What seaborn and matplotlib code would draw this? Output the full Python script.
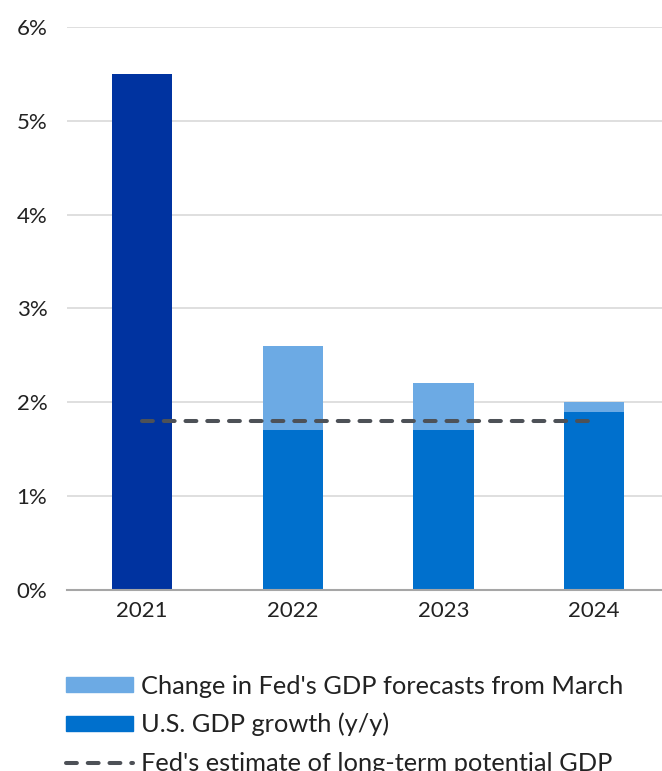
import numpy as np
import pandas as pd
import matplotlib
matplotlib.use("Agg")
import matplotlib.pyplot as plt
import seaborn as sns
from matplotlib.patches import Patch
from matplotlib.lines import Line2D

years = ["2021", "2022", "2023", "2024"]
gdp_growth = [5.5, 1.7, 1.7, 1.9]
forecast_total = [5.5, 2.6, 2.2, 2.0]
potential_gdp = [1.8, 1.8, 1.8, 1.8]
y_ticks = [0, 1, 2, 3, 4, 5, 6]
y_ticklabels = ["0%", "1%", "2%", "3%", "4%", "5%", "6%"]
legend_labels = ["Change in Fed's GDP forecasts from March",
                 "U.S. GDP growth (y/y)",
                 "Fed's estimate of long-term potential GDP"]

NAVY = "#0033a0"
BLUE = "#0070cd"
LIGHT = "#6caae4"
DASH = "#4d5157"

sns.set_theme(style="white")
plt.rcParams["font.family"] = ["Lato", "DejaVu Sans"]

fig = plt.figure(figsize=(6.62, 7.71), dpi=100)
ax = fig.add_axes([0.101, 0.235, 0.899, 0.730])

df = pd.DataFrame({"year": years, "growth": gdp_growth, "total": forecast_total})

sns.barplot(data=df, x="year", y="total", color=LIGHT, width=0.4,
            saturation=1, linewidth=0, ax=ax, zorder=2)
sns.barplot(data=df, x="year", y="growth", hue="year",
            palette=[NAVY, BLUE, BLUE, BLUE], width=0.4, saturation=1,
            linewidth=0, legend=False, ax=ax, zorder=3)

ln, = ax.plot(np.arange(len(years)), potential_gdp, color=DASH, lw=2.9,
              zorder=4, dash_capstyle="round")
ln.set_dashes((2.7, 2.7))

ax.set_ylim(0, 6)
ax.set_xlim(-0.5, 3.45)
ax.set_yticks(y_ticks)
ax.set_yticklabels(y_ticklabels, fontsize=16, color="#222222")
ax.tick_params(axis="x", labelsize=16, colors="#222222", length=0, pad=8)
ax.tick_params(axis="y", length=0, pad=14)
ax.set_xlabel("")
ax.set_ylabel("")
ax.yaxis.grid(True, color="#d9d9d9", lw=1.2, zorder=0)
ax.set_axisbelow(True)
for s in ["top", "right", "left"]:
    ax.spines[s].set_visible(False)
ax.spines["bottom"].set_color("#a6a6a6")
ax.spines["bottom"].set_linewidth(1.5)
ax.spines["bottom"].set_zorder(5)

handles = [Patch(color=LIGHT), Patch(color=BLUE),
           Line2D([], [], color=DASH, lw=2.9, dashes=(2.7, 2.7),
                  dash_capstyle="round")]
fig.legend(handles, legend_labels, loc="upper left",
           bbox_to_anchor=(0.0997, 0.125), frameon=False, fontsize=18.3,
           borderpad=0, borderaxespad=0,
           handlelength=2.65, handleheight=0.5, handletextpad=0.3,
           labelspacing=0.6, labelcolor="#222222")

fig.savefig("out.png", dpi=100)
